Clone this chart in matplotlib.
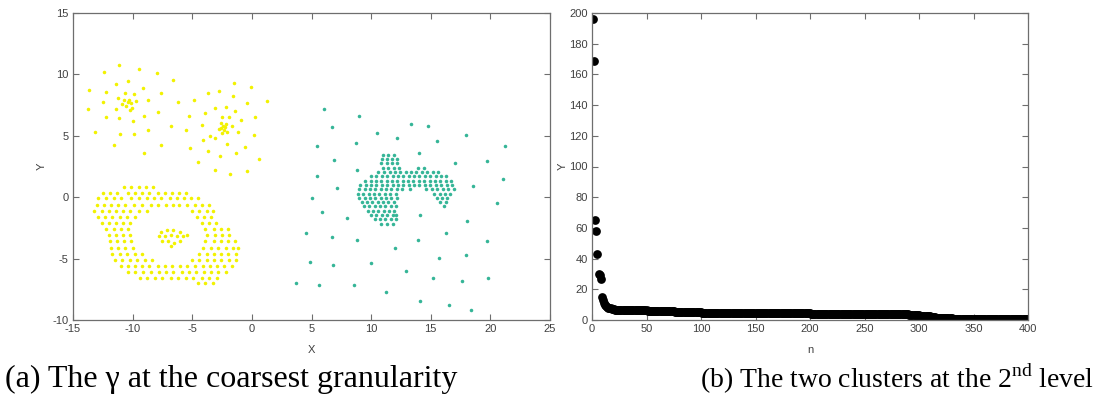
import numpy as np
import matplotlib
matplotlib.use("Agg")
import matplotlib.pyplot as plt

# ---------------- data: panel (a) ----------------
# yellow, upper-left cloud
ytl_x = [-13.66, -13.75, -13.19, -12.44, -12.47, -12.21, -12.21, -11.57, -11.43, -11.43, -11.21, -11.16,
         -11.16, -11.07, -10.60, -10.54, -10.38, -10.40, -10.24, -10.13, -10.07, -10.01, -9.90, -9.90,
         -9.68, -9.48, -9.09, -9.07, -9.01, -8.68, -8.68, -7.98, -7.87, -7.62, -7.62, -6.78, -6.59, -6.23,
         -10.75, -10.30, -10.85]
ytl_y = [8.73, 7.15, 5.33, 10.20, 7.78, 8.57, 6.50, 4.24, 9.22, 7.21, 8.11, 10.78,
         6.42, 5.14, 8.49, 7.43, 9.44, 7.72, 7.10, 7.64, 7.23, 6.17, 8.41, 5.14,
         7.83, 10.42, 8.92, 3.64, 6.63, 7.92, 5.46, 10.10, 6.91, 8.46, 4.26, 5.82, 9.58, 7.72,
         7.95, 7.95, 7.60]
# yellow, upper-right cloud
ytr_x = [-4.86, -5.20, -5.53, -5.31, -4.53, -4.19, -4.11, -3.94, -3.69, -3.66, -3.47, -3.13, -3.11, -3.08,
         -2.74, -2.74, -2.69, -2.63, -2.52, -2.49, -2.41, -2.27, -2.19, -2.21, -2.08, -2.05, -1.94, -1.80,
         -1.63, -1.55, -1.49, -1.41, -1.30, -1.18, -0.93, -0.57, -0.43, -0.38, -0.04, 0.21, 0.26, 0.57, 1.24,
         -2.55, -2.35]
ytr_y = [7.92, 4.02, 5.46, 6.63, 2.85, 5.84, 4.67, 6.83, 8.51, 3.80, 5.00, 7.29, 2.19, 4.81,
         8.68, 5.52, 3.37, 5.63, 6.55, 5.25, 5.79, 5.68, 5.93, 7.34, 5.35, 4.32, 6.50, 1.89,
         5.79, 8.24, 9.28, 7.02, 3.56, 5.30, 6.25, 4.07, 2.11, 7.70, 9.00, 5.08, 6.50, 3.12, 7.86,
         6.05, 5.45]
# yellow, ring (rows of the band)
ring_row_y = [0.8, 0.35, -0.1, -0.6, -1.1, -1.6, -2.1, -2.6, -3.1, -3.6, -4.1, -4.6, -5.1, -5.6, -6.1, -6.6, -7.0]
ring_row_x = [
    [-10.7, -10.1, -9.5, -8.9, -8.3],
    [-12.5, -11.9, -11.3, -10.4, -9.8, -9.2, -8.6, -7.9, -7.3, -6.7, -6.1, -5.5],
    [-12.9, -12.2, -11.6, -11.0, -10.1, -9.5, -8.8, -8.2, -7.6, -6.9, -6.3, -5.7, -5.1, -4.5],
    [-13.0, -12.4, -11.8, -11.2, -10.6, -9.9, -9.2, -8.5, -7.9, -7.2, -6.6, -6.1, -5.4, -4.8, -4.2, -3.6],
    [-13.2, -12.6, -12.0, -11.4, -10.8, -10.2, -9.5, -8.8, -5.0, -4.4, -3.8, -3.3],
    [-12.9, -12.3, -11.7, -11.1, -10.5, -9.8, -4.6, -4.0, -3.4],
    [-12.6, -12.0, -11.4, -10.8, -10.2, -4.2, -3.6, -3.0],
    [-12.2, -11.6, -11.0, -10.4, -3.9, -3.2, -2.6, -2.0],
    [-12.0, -11.4, -10.8, -10.2, -3.8, -3.1, -2.5, -1.9],
    [-11.9, -11.3, -10.7, -10.1, -3.9, -3.2, -2.6, -2.0, -1.4],
    [-11.8, -11.2, -10.6, -10.0, -4.1, -3.4, -2.8, -2.2, -1.6, -1.2],
    [-11.7, -11.1, -10.5, -9.8, -9.2, -4.4, -3.8, -3.2, -2.6, -2.0, -1.3],
    [-11.5, -10.9, -10.2, -9.6, -9.0, -8.4, -5.0, -4.4, -3.8, -3.2, -2.6, -1.9, -1.3],
    [-11.0, -10.4, -9.8, -9.2, -8.6, -7.9, -7.3, -6.7, -6.0, -5.4, -4.8, -4.1, -3.5, -2.9, -2.3, -1.7],
    [-10.4, -9.8, -9.1, -8.5, -7.8, -7.2, -6.6, -5.9, -5.3, -4.7, -4.0, -3.4, -2.8, -2.2],
    [-9.4, -8.8, -8.1, -7.5, -6.8, -6.2, -5.5, -4.9, -4.2, -3.6, -2.9],
    [-4.5, -3.9, -3.3],
]
# yellow, small core inside the ring
core_x = [-7.6, -7.1, -6.6, -6.0, -7.8, -7.3, -6.8, -6.3, -5.8, -5.4, -7.5, -7.0, -6.5, -6.0, -6.8]
core_y = [-2.8, -2.7, -2.7, -2.8, -3.2, -3.2, -3.1, -3.2, -3.2, -3.1, -3.6, -3.6, -3.7, -3.6, -4.0]

# teal, sparse surrounding points
tsp_x = [5.48, 7.10, 5.00, 18.57, 21.03, 20.52, 5.84, 7.94, 14.06, 18.04, 4.56, 6.71, 8.81, 12.02, 13.95,
         16.24, 19.71, 4.86, 6.79, 10.01, 15.71, 17.92, 3.69, 5.67, 8.53, 12.94, 15.15, 17.59, 19.80, 11.21,
         14.09, 16.55, 18.34, 6.01, 9.00, 6.68, 13.34, 14.73, 10.51, 12.19, 17.95, 15.52, 5.48, 8.69, 21.22,
         14.01, 6.85, 17.03, 19.68, 8.78]
tsp_y = [1.74, 0.71, -0.08, 0.95, 1.47, -0.49, -1.19, -1.68, -1.44, -1.95, -2.93, -3.28, -3.50, -4.10, -3.50,
         -2.88, -3.55, -5.26, -5.54, -5.32, -4.97, -4.67, -6.97, -7.11, -7.16, -6.05, -6.59, -6.81, -6.62, -7.71,
         -8.44, -8.77, -9.15, 7.19, 6.59, 5.72, 5.94, 5.81, 5.24, 4.80, 5.10, 4.56, 4.15, 4.42, 4.21,
         3.63, 3.04, 2.82, 2.98, 2.25]
# teal, dense hook-shaped cluster (rows)
hook_row_y = [3.45, 3.1, 2.75, 2.4, 2.05, 1.7, 1.35, 1.0, 0.65, 0.3, -0.05, -0.4, -0.75, -1.1, -1.45, -1.8, -2.15]
hook_row_x = [
    [11.0, 11.45, 11.9],
    [10.9, 11.3, 11.75, 12.2],
    [10.85, 11.3, 11.75, 12.2],
    [11.0, 11.45, 11.9, 12.35, 13.9, 14.4],
    [10.6, 11.1, 11.55, 12.0, 12.45, 12.9, 13.35, 13.8, 14.25, 14.7, 15.15, 15.6],
    [10.0, 10.45, 10.9, 11.35, 11.8, 12.25, 12.7, 13.15, 13.6, 14.05, 14.5, 14.95, 15.4, 15.85, 16.3],
    [9.5, 9.95, 10.4, 10.85, 11.3, 11.75, 12.2, 12.65, 13.1, 13.55, 14.0, 14.45, 14.9, 15.35, 15.8, 16.25, 16.7],
    [9.1, 9.55, 10.0, 10.45, 10.9, 11.35, 11.8, 12.25, 12.7, 13.15, 13.6, 14.05, 14.5, 14.95, 15.45, 15.9, 16.35, 16.8],
    [9.0, 9.45, 9.9, 10.35, 10.8, 11.25, 11.7, 12.15, 12.6, 13.3, 14.6, 15.1, 15.55, 16.0, 16.45, 16.95],
    [8.9, 9.35, 9.8, 10.25, 10.7, 11.15, 11.6, 12.05, 15.3, 15.75, 16.2, 16.65],
    [9.0, 9.45, 9.9, 10.35, 10.8, 11.25, 11.7, 12.15, 15.5, 15.95, 16.4],
    [9.2, 9.65, 10.1, 10.55, 11.0, 11.45, 11.9, 15.8, 16.3],
    [9.4, 9.85, 10.3, 10.75, 11.2, 11.65, 12.1, 16.1],
    [9.7, 10.15, 10.6, 11.05, 11.5, 11.95],
    [10.0, 10.45, 10.9, 11.35, 11.8, 12.1],
    [10.3, 10.75, 11.2, 11.65, 12.05],
    [10.8, 11.3, 11.8],
]

left_xticks = [-15, -10, -5, 0, 5, 10, 15, 20, 25]
left_yticks = [-10, -5, 0, 5, 10, 15]

# ---------------- data: panel (b) ----------------
head_vals = [196, 169, 65, 58, 43, 30, 29, 27, 15, 13, 11, 10, 9, 8.5, 8, 7.7, 7.5, 7.3, 7.1, 7.0]
tail_levels = [6.8, 6.2, 5.7, 5.2, 4.8, 4.4, 4.0, 3.6, 3.3, 2.9, 2.4, 2.0, 1.6, 1.2, 0.9, 0.6, 0.4]
tail_counts = [10, 20, 25, 25, 50, 50, 50, 40, 10, 5, 5, 5, 5, 10, 20, 25, 25]
right_xticks = [0, 50, 100, 150, 200, 250, 300, 350, 400]
right_yticks = list(range(0, 201, 20))

caption_a = "(a) The \u03b3 at the coarsest granularity"
caption_b = r"(b) The two clusters at the 2$^{\mathrm{nd}}$ level"

# ---------------- drawing ----------------
plt.rcParams['mathtext.fontset'] = 'custom'
plt.rcParams['mathtext.rm'] = 'Liberation Serif'
plt.rcParams['axes.unicode_minus'] = False

W, H = 1094, 397
fig = plt.figure(figsize=(W / 100, H / 100), dpi=100)

spine_col = '#6e6e6e'
tick_col = '#404040'
YELLOW = '#f2f200'
TEAL = '#35b597'

def style_axes(ax):
    for s in ax.spines.values():
        s.set_color(spine_col)
        s.set_linewidth(0.9)
    ax.tick_params(direction='in', top=True, right=True, length=4, width=0.8,
                   color=spine_col, labelsize=8, labelcolor=tick_col, pad=3)
    for lab in ax.get_xticklabels() + ax.get_yticklabels():
        lab.set_family('Liberation Sans')

# panel (a)
axa = fig.add_axes([73 / W, 1 - 320 / H, 477 / W, 307 / H])
yx = ytl_x + ytr_x + core_x
yy = ytl_y + ytr_y + core_y
for ry, rx in zip(ring_row_y, ring_row_x):
    yx += rx
    yy += [ry] * len(rx)
axa.scatter(yx, yy, s=6.5, color=YELLOW, linewidths=0)
tx = list(tsp_x)
ty = list(tsp_y)
for ry, rx in zip(hook_row_y, hook_row_x):
    tx += rx
    ty += [ry] * len(rx)
axa.scatter(tx, ty, s=6.5, color=TEAL, linewidths=0)
axa.set_xlim(-15, 25)
axa.set_ylim(-10, 15)
axa.set_xticks(left_xticks)
axa.set_yticks(left_yticks)
style_axes(axa)
axa.set_xlabel('X', fontsize=8, color=tick_col, family='Liberation Sans', labelpad=8)
axa.set_ylabel('Y', fontsize=8, color=tick_col, family='Liberation Sans', labelpad=4)

# panel (b)
axb = fig.add_axes([592 / W, 1 - 320 / H, 436 / W, 307 / H])
vals = list(head_vals) + list(np.repeat(tail_levels, tail_counts))
n = np.arange(1, len(vals) + 1)
axb.plot(n, vals, linestyle='none', marker='o', markersize=6.3, color='black', markeredgewidth=0)
axb.set_xlim(0, 400)
axb.set_ylim(0, 200)
axb.set_xticks(right_xticks)
axb.set_yticks(right_yticks)
style_axes(axb)
axb.set_xlabel('n', fontsize=8, color=tick_col, family='Liberation Sans', labelpad=8)
axb.set_ylabel('Y', fontsize=8, color=tick_col, family='Liberation Sans', labelpad=1)

# captions
fig.text(5 / W, 1 - 379 / H, caption_a, fontsize=23, family='Liberation Serif', va='center', ha='left')
fig.text(700 / W, 1 - 379 / H, caption_b, fontsize=20, family='Liberation Serif', va='center', ha='left')

fig.savefig('out.png', dpi=100)
